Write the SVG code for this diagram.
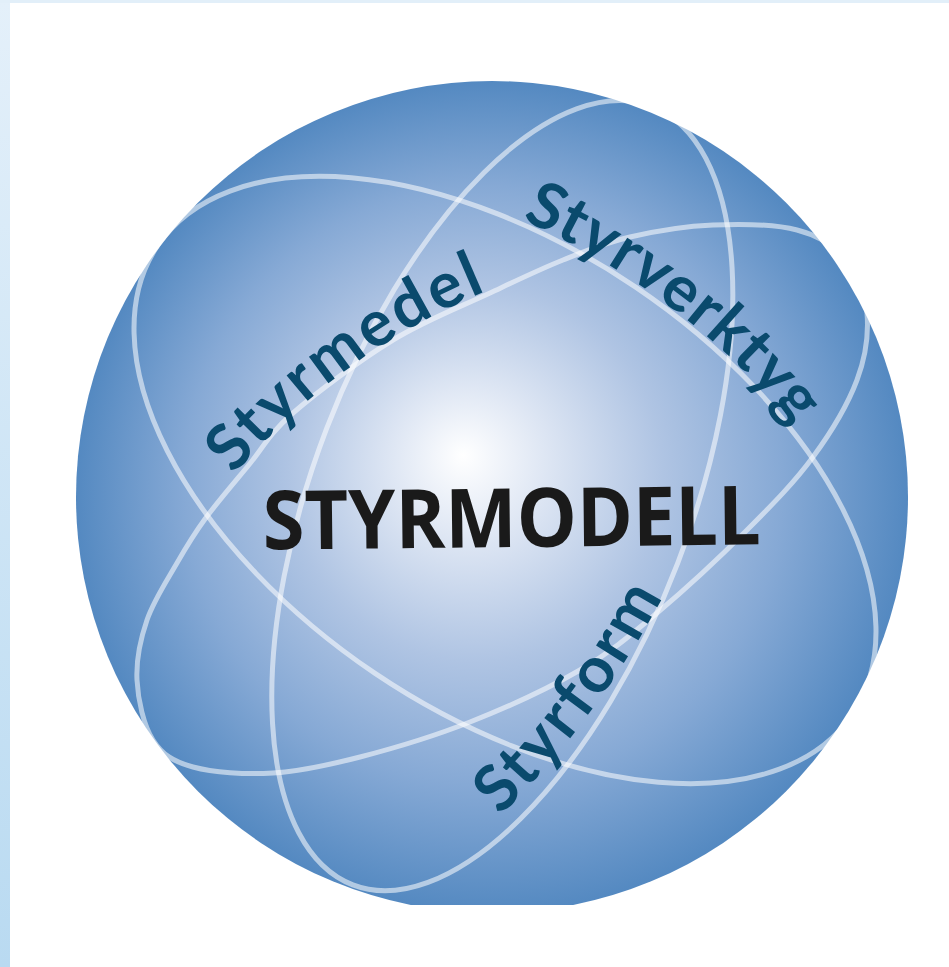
<svg xmlns="http://www.w3.org/2000/svg" width="949" height="967" viewBox="0 0 949 967">
<defs>
  <linearGradient id="strip" x1="0" y1="0" x2="0" y2="1">
    <stop offset="0" stop-color="#e4f0fa"/>
    <stop offset="1" stop-color="#b9daf1"/>
  </linearGradient>
  <radialGradient id="sphere" gradientUnits="userSpaceOnUse" cx="492" cy="497" r="416" fx="463" fy="455">
    <stop offset="0" stop-color="#ffffff"/>
    <stop offset="0.18" stop-color="#dfe7f4"/>
    <stop offset="0.45" stop-color="#afc4e3"/>
    <stop offset="0.72" stop-color="#86a9d5"/>
    <stop offset="1" stop-color="#5489c1"/>
  </radialGradient>
  <clipPath id="cut"><rect x="0" y="0" width="949" height="905"/></clipPath>
  <path id="p-medel" d="M 234 475 Q 338 353 486 291"/>
  <path id="p-verktyg" d="M 522 219.8 A 423 237 34 0 1 793.4 425.9"/>
  <path id="p-form" d="M 500 816 Q 597 720 662 598"/>
</defs>
<style>
  .orbit{fill:none;stroke:#ffffff;stroke-opacity:0.55;stroke-width:5}
  .lbl{font-family:Lato,"Open Sans","DejaVu Sans",sans-serif;font-weight:700;font-size:64px;fill:#0a4a6d}
  .title{font-family:"Open Sans","DejaVu Sans",sans-serif;font-weight:700;font-size:82px;fill:#1a1a1a}
</style>
<rect x="0" y="0" width="949" height="967" fill="#ffffff"/>
<rect x="0" y="0" width="10" height="967" fill="url(#strip)"/>
<rect x="0" y="0" width="949" height="3" fill="#e2eff9"/>
<g id="sphere-node" clip-path="url(#cut)">
  <circle cx="492" cy="497" r="416" fill="url(#sphere)"/>
</g>
<g id="orbits">
  <ellipse class="orbit" cx="505" cy="480" rx="419" ry="233" transform="rotate(34 505 480)"/>
  <path class="orbit" d="M 867 313 C 868.67 333 866 356 857 380 C 848 404 831.33 432 813 457 C 794.67 482 773 504 747 530 C 721 556 684.83 589.67 657 613 C 629.17 636.33 611.17 651.83 580 670 C 548.83 688.17 506.67 707.5 470 722 C 433.33 736.5 392.83 748.5 360 757 C 327.17 765.5 300.83 771.33 273 773 C 245.17 774.67 213 772.5 193 767 C 173 761.5 162.33 754.5 153 740 C 143.67 725.5 138 700 137 680 C 136 660 140.33 639.5 147 620 C 153.67 600.5 167.33 579.83 177 563 C 186.67 546.17 193.17 535.17 205 519 C 216.83 502.83 233.33 483.67 248 466 C 262.67 448.33 268.83 434 293 413 C 317.17 392 360.17 360 393 340 C 425.83 320 461.67 306.33 490 293 C 518.33 279.67 539.67 269.33 563 260 C 586.33 250.67 605 242.83 630 237 C 655 231.17 685.17 226.17 713 225 C 740.83 223.83 774.67 224.17 797 230 C 819.33 235.83 835.33 246.17 847 260 C 858.67 273.83 865.33 293 867 313 Z"/>
  <ellipse class="orbit" cx="502.3" cy="495.6" rx="417" ry="188" transform="rotate(-69 502.3 495.6)"/>
</g>
<g id="label-styrmedel">
  <text class="lbl"><textPath href="#p-medel" textLength="315" lengthAdjust="spacing">Styrmedel</textPath></text>
</g>
<g id="label-styrverktyg">
  <text class="lbl"><textPath href="#p-verktyg" textLength="344" lengthAdjust="spacing">Styrverktyg</textPath></text>
</g>
<g id="label-styrform">
  <text class="lbl"><textPath href="#p-form" textLength="274" lengthAdjust="spacing">Styrform</textPath></text>
</g>
<g id="title">
  <text class="title" x="512" y="547" text-anchor="middle" textLength="498" lengthAdjust="spacingAndGlyphs" transform="rotate(-0.6 512 547)">STYRMODELL</text>
</g>
</svg>
